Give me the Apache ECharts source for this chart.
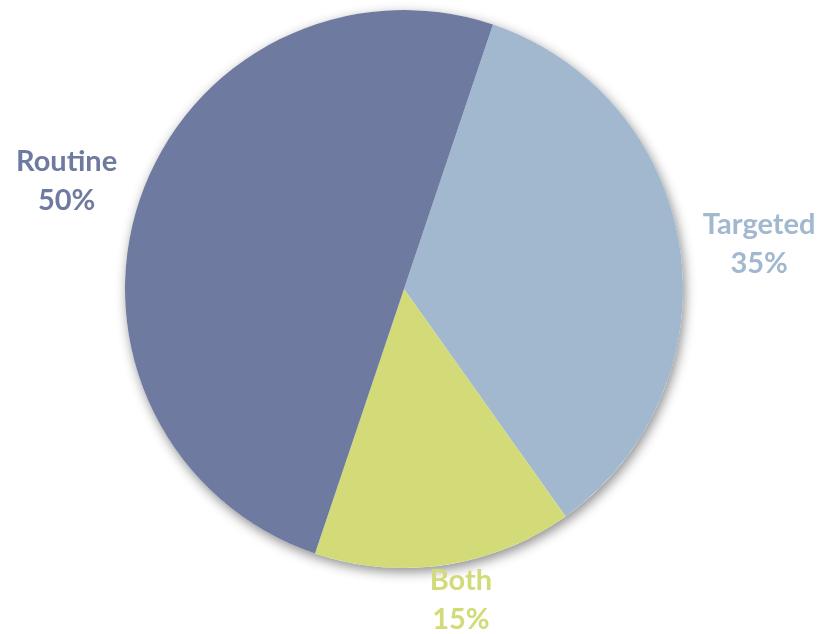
<!DOCTYPE html>
<html>
<head>
<meta charset="utf-8">
<style>
  html, body { margin: 0; padding: 0; background: #ffffff; }
  #chart { width: 823px; height: 634px; }
</style>
<script src="https://cdn.jsdelivr.net/npm/echarts@6/dist/echarts.min.js"></script>
</head>
<body>
<div id="chart"></div>
<script>
// Share of approaches
var categories = ['Targeted', 'Both', 'Routine'];
var shares = [35, 15, 50];
var sliceColors = ['#a1b8cf', '#d3da78', '#6f7aa0'];

var chart = echarts.init(document.getElementById('chart'));

var cx = 404, cy = 289, R = 279;
var startAngle = 71.4; // degrees, counter-clockwise from 3 o'clock
// distance from the centre to each label block's middle, plus a small nudge
var labelDist = [359, 314, 356];
var labelNudge = [[0, 8], [11, 1], [0, 6]];

var total = shares.reduce(function (a, b) { return a + b; }, 0);
var midAngles = [];
(function () {
  var acc = 0;
  for (var i = 0; i < shares.length; i++) {
    var mid = startAngle - (acc + shares[i] / 2) / total * 360;
    midAngles.push(mid * Math.PI / 180);
    acc += shares[i];
  }
})();

var data = categories.map(function (name, i) {
  return {
    name: name,
    value: shares[i],
    itemStyle: { color: sliceColors[i] },
    label: { color: sliceColors[i] }
  };
});

chart.setOption({
  backgroundColor: '#ffffff',
  animation: false,
  series: [
    {
      // soft drop shadow under the whole disc
      type: 'pie',
      silent: true,
      center: [cx, cy],
      radius: [0, R],
      startAngle: startAngle,
      label: { show: false },
      labelLine: { show: false },
      data: [{ value: total, itemStyle: {
        color: '#ffffff',
        shadowColor: 'rgba(0,0,0,0.45)',
        shadowBlur: 12,
        shadowOffsetX: 2,
        shadowOffsetY: 4
      } }]
    },
    {
      type: 'pie',
      center: [cx, cy],
      radius: [0, R],
      startAngle: startAngle,
      clockwise: true,
      data: data,
      label: {
        show: true,
        position: 'inside',
        overflow: 'none',
        formatter: function (p) { return p.name + '\n' + p.value + '%'; },
        fontFamily: 'Lato',
        fontWeight: 'bold',
        fontSize: 29,
        lineHeight: 39,
        align: 'center'
      },
      labelLine: { show: false },
      labelLayout: function (params) {
        var i = params.dataIndex;
        var a = midAngles[i];
        return {
          x: cx + labelDist[i] * Math.cos(a) + labelNudge[i][0],
          y: cy - labelDist[i] * Math.sin(a) + labelNudge[i][1],
          align: 'center',
          verticalAlign: 'middle'
        };
      }
    }
  ]
});
</script>
</body>
</html>
